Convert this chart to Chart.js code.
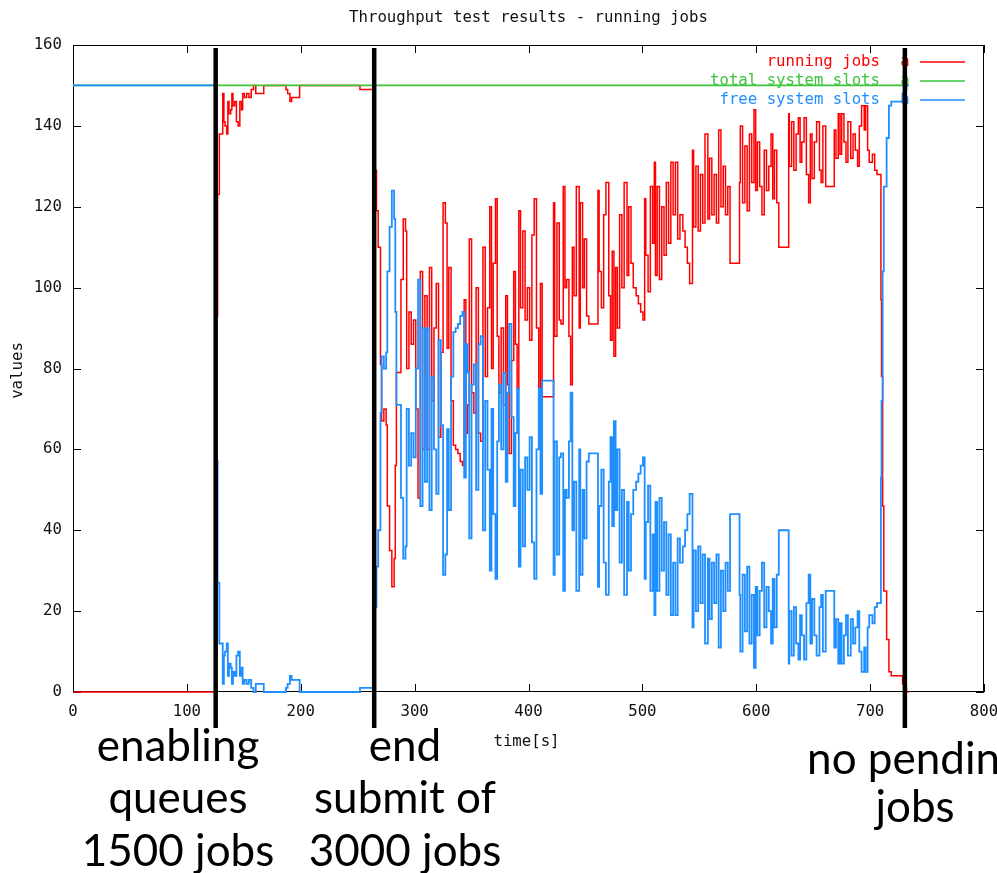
<!DOCTYPE html>
<html>
<head>
<meta charset="utf-8">
<title>Throughput test results - running jobs</title>
<script src="https://cdn.jsdelivr.net/npm/chart.js@4.4.1/dist/chart.umd.min.js"></script>
<style>
  html, body { margin: 0; padding: 0; background: #fff; }
</style>
</head>
<body>
<canvas id="jobsChart" width="997" height="873"></canvas>
<script>
// time in seconds, shared by running jobs / free slots
const times = [
  0, 125, 127, 128.5, 129.5, 131.5, 132.5, 133.5, 135, 136,
  137, 138.5, 139.5, 140.5, 142, 143.5, 145, 146.5, 148, 149,
  150.5, 152.5, 154.5, 156.5, 158.5, 160.5, 163, 167.5, 168.5, 187,
  188.5, 190.5, 192, 193.5, 199, 200, 252, 253, 263.5,
  265, 266.5, 268, 270, 271, 273, 275, 276, 278, 280, 282, 283, 284, 286, 288, 290, 292, 293,
  295, 297, 299, 301, 303, 305, 307, 309, 311, 313, 315, 317, 319, 321, 323, 325,
  327, 328.5, 330, 332, 334, 336, 338, 340, 342, 343.5, 345, 346.5, 348, 350,
  352, 354, 356, 358, 360, 362, 364, 366, 367.5, 369, 371, 372.5, 374,
  376, 378, 380, 381.5, 383, 385, 387, 388.5, 390, 391.5, 393, 395, 397, 399, 401, 403, 405, 407, 409, 410.5,
  412, 414, 422, 423, 425, 427, 428.5, 430.5, 432, 433.5, 435.5, 437, 438.5, 440, 442, 444.5,
  445.5, 447.5, 449, 451, 453, 455, 461, 462,
  464, 466, 468, 470.5, 472, 473.5, 475, 476.5, 478, 480, 482, 484, 486.5,
  488, 490, 492, 494.5, 496.5, 498.5, 500.5, 502, 503, 505,
  507, 509, 510.5, 511.5, 513, 515, 517, 519, 521, 523, 525, 527, 529, 531, 533, 535.5,
  537.5, 539.5, 541.5, 544, 545, 547, 549, 551, 553, 555, 557.5,
  559, 561, 563, 565, 567, 569, 571, 573, 575, 577, 578.8, 585.3,
  586, 588, 590, 592, 594, 596, 598, 599.5, 601, 603, 605, 607, 609, 611, 613, 614.5, 616, 618, 619.8,
  620.5, 628.5, 629,
  631, 633, 635, 637, 638.5, 640, 642, 644, 646, 647.5, 649, 651, 653, 655.5, 657, 658.5, 661,
  662, 668.5,
  670, 672, 673.5, 675, 677, 678.8, 680.5, 683, 685, 687, 689, 690.5, 692.5, 694.8, 696, 697.8, 699.2, 702, 704, 706, 708, 709.5,
  710, 711, 712, 714.5, 716.5, 718.5, 728.5, 730, 732, 734
];

const running = [
  0, 0, 93, 123, 138, 138, 148, 141, 140, 138,
  146, 143, 144, 148, 145, 146, 141, 140, 146, 144,
  148, 147, 148, 147, 149, 150, 148, 148, 150, 150,
  149, 148, 146, 147, 147, 150, 150, 149, 149,
  135, 129, 119, 110, 81, 67, 70, 66, 46, 35, 26, 33, 56, 79, 79, 102, 117, 114,
  80, 94, 86, 92, 70, 48, 104, 60, 98, 60, 105, 72, 90, 101, 63, 84,
  121, 116, 85, 105, 72, 61, 60, 59, 57, 56, 97, 64, 71, 112,
  74, 69, 100, 64, 62, 110, 78, 95, 120, 80, 106, 122, 88,
  74, 90, 71, 98, 76, 59, 82, 104, 86, 75, 119, 95, 114, 92, 100, 87, 113, 122, 90, 75,
  101, 73, 73, 121, 88, 116, 92, 91, 125, 100, 102, 88, 76, 110, 98, 125,
  90, 121, 100, 112, 93, 91, 91, 124,
  104, 95, 118, 126, 98, 87, 109, 83, 105, 90, 118, 100, 126,
  103, 120, 106, 100, 98, 96, 94, 92, 122, 108,
  99, 125, 111, 131, 103, 125, 102, 120, 108, 126, 111, 131, 118, 131, 112, 118,
  114, 110, 106, 101, 134, 115, 130, 114, 128, 116, 138,
  117, 132, 118, 128, 116, 139, 120, 130, 118, 125, 106, 106,
  126, 140, 121, 135, 119, 138, 126, 144, 124, 136, 125, 118, 134, 124, 130, 138, 122, 134, 121,
  110, 110, 143,
  130, 141, 129, 138, 142, 131, 136, 142, 128, 121, 138, 127, 136, 141, 129, 126, 140,
  125, 125,
  139, 132, 143, 133, 143, 136, 131, 141, 132, 138, 134, 130, 140, 145, 139, 145, 134, 131, 133, 129, 128, 128,
  97, 78, 46, 25, 13, 5, 4, 2, 1, 0
];

const free = [
  150, 150, 57, 27, 12, 12, 2, 9, 10, 12,
  4, 7, 6, 2, 5, 4, 9, 10, 4, 6,
  2, 3, 2, 3, 1, 0, 2, 2, 0, 0,
  1, 2, 4, 3, 3, 0, 0, 1, 1,
  15, 21, 31, 40, 69, 83, 80, 84, 104, 115, 124, 117, 94, 71, 71, 48, 33, 36,
  70, 56, 64, 58, 80, 102, 46, 90, 52, 90, 45, 78, 60, 49, 87, 66,
  29, 34, 65, 45, 78, 89, 90, 91, 93, 94, 53, 86, 79, 38,
  76, 81, 50, 86, 88, 40, 72, 55, 30, 70, 44, 28, 62,
  76, 60, 79, 52, 74, 91, 68, 46, 64, 75, 31, 55, 36, 58, 50, 63, 37, 28, 60, 75,
  49, 77, 77, 29, 62, 34, 58, 59, 25, 50, 48, 62, 74, 40, 52, 25,
  60, 29, 50, 38, 57, 59, 59, 26,
  46, 55, 32, 24, 52, 63, 41, 67, 45, 60, 32, 50, 24,
  47, 30, 44, 50, 52, 54, 56, 58, 28, 42,
  51, 25, 39, 19, 47, 25, 48, 30, 42, 24, 39, 19, 32, 19, 38, 32,
  36, 40, 44, 49, 16, 35, 20, 36, 22, 34, 12,
  33, 18, 32, 22, 34, 11, 30, 20, 32, 25, 44, 44,
  24, 10, 29, 15, 31, 12, 24, 6, 26, 14, 25, 32, 16, 26, 20, 12, 28, 16, 29,
  40, 40, 7,
  20, 9, 21, 12, 8, 19, 14, 8, 22, 29, 12, 23, 14, 9, 21, 24, 10,
  25, 25,
  11, 18, 7, 17, 7, 14, 19, 9, 18, 12, 16, 20, 10, 5, 11, 5, 16, 19, 17, 21, 22, 22,
  53, 72, 104, 125, 137, 145, 146, 148, 149, 150
];

const totalTimes = [0, 734];
const totalSlots = [150, 150];

const timeTicks = [0, 100, 200, 300, 400, 500, 600, 700, 800];
const valueTicks = [0, 20, 40, 60, 80, 100, 120, 140, 160];

const seriesNames = ['running jobs', 'total system slots', 'free system slots'];
const seriesColors = ['#ff0000', '#3cc43c', '#1f8fff'];

// event markers (time in seconds) and the notes written under them
const markerTimes = [125.3, 264.5, 730.5];
const markerNotes = [
  ['enabling', 'queues', '1500 jobs'],
  ['end', 'submit of', '3000 jobs'],
  ['no pending', 'jobs']
];

const monoFont = '"DejaVu Sans Mono", "Liberation Mono", monospace';
const toPoints = (xs, ys) => xs.map((t, i) => ({ x: t, y: ys[i] }));

const gnuplotFrame = {
  id: 'gnuplotFrame',
  beforeDatasetsDraw(chart) {
    const { ctx, chartArea: a, scales: { x, y } } = chart;
    ctx.save();
    ctx.strokeStyle = '#000';
    ctx.lineWidth = 1;
    ctx.strokeRect(a.left + 0.5, a.top + 0.5, a.right - a.left - 1, a.bottom - a.top - 1);
    ctx.beginPath();
    timeTicks.forEach(v => {
      const px = Math.round(x.getPixelForValue(v)) + 0.5;
      ctx.moveTo(px, a.bottom); ctx.lineTo(px, a.bottom - 8);
      ctx.moveTo(px, a.top); ctx.lineTo(px, a.top + 8);
    });
    valueTicks.forEach(v => {
      const py = Math.round(y.getPixelForValue(v)) + 0.5;
      ctx.moveTo(a.left, py); ctx.lineTo(a.left + 8, py);
      ctx.moveTo(a.right, py); ctx.lineTo(a.right - 8, py);
    });
    ctx.stroke();
    ctx.restore();
  },
  afterDatasetsDraw(chart) {
    const { ctx, chartArea: a, scales: { x } } = chart;
    ctx.save();

    // title and axis titles
    ctx.fillStyle = '#111';
    ctx.font = '15.7px ' + monoFont;
    ctx.textAlign = 'center';
    ctx.textBaseline = 'middle';
    ctx.fillText('Throughput test results - running jobs', (a.left + a.right) / 2, 18);
    ctx.fillText('time[s]', (a.left + a.right) / 2 - 2, 742);
    ctx.save();
    ctx.translate(18, (a.top + a.bottom) / 2 + 2);
    ctx.rotate(-Math.PI / 2);
    ctx.fillText('values', 0, 0);
    ctx.restore();

    // key, gnuplot style
    seriesNames.forEach((name, i) => {
      const ly = a.top + 17 + i * 19;
      ctx.fillStyle = seriesColors[i];
      ctx.textAlign = 'right';
      ctx.fillText(name, a.right - 104, ly);
      ctx.textAlign = 'center';
      ctx.fillText('a', a.right - 79, ly);
      ctx.strokeStyle = seriesColors[i];
      ctx.lineWidth = 1.6;
      ctx.beginPath();
      ctx.moveTo(a.right - 64, ly);
      ctx.lineTo(a.right - 19, ly);
      ctx.stroke();
    });

    // black event bars
    ctx.fillStyle = '#000';
    markerTimes.forEach(t => {
      const px = x.getPixelForValue(t);
      ctx.fillRect(px - 2.25, a.top + 3, 4.5, a.bottom + 36 - (a.top + 3));
    });

    // notes under the bars
    const noteCenters = [178, 405, 915];
    const noteBaselines = [[761, 813, 866], [761, 813, 866], [774, 822]];
    ctx.font = '44px Lato, "Liberation Sans", sans-serif';
    ctx.textAlign = 'center';
    ctx.textBaseline = 'alphabetic';
    markerNotes.forEach((lines, i) => {
      lines.forEach((line, j) => ctx.fillText(line, noteCenters[i], noteBaselines[i][j]));
    });
    ctx.restore();
  }
};

const ctx = document.getElementById('jobsChart').getContext('2d');
const jobsChart = new Chart(ctx, {
  type: 'line',
  data: {
    datasets: [{
      label: seriesNames[0],
      data: toPoints(times, running),
      borderColor: seriesColors[0],
      borderWidth: 1.5,
      stepped: 'after',
      order: 3
    }, {
      label: seriesNames[1],
      data: toPoints(totalTimes, totalSlots),
      borderColor: seriesColors[1],
      borderWidth: 1.8,
      order: 2
    }, {
      label: seriesNames[2],
      data: toPoints(times, free),
      borderColor: seriesColors[2],
      borderWidth: 1.8,
      stepped: 'after',
      order: 1
    }]
  },
  options: {
    responsive: false,
    animation: false,
    events: [],
    layout: { padding: { left: 0, top: 45, right: 13, bottom: 151 } },
    elements: {
      line: { tension: 0, fill: false },
      point: { radius: 0 }
    },
    datasets: { line: { clip: 3 } },
    plugins: {
      legend: { display: false },
      tooltip: { enabled: false }
    },
    scales: {
      x: {
        type: 'linear',
        min: 0,
        max: 800,
        grid: { display: false },
        border: { display: false },
        ticks: { font: { family: monoFont, size: 15.7 }, color: '#111', padding: 3, maxRotation: 0, autoSkip: false },
        afterBuildTicks: s => { s.ticks = timeTicks.map(v => ({ value: v })); },
        afterFit: s => { s.height = 30; s.paddingLeft = 0; s.paddingRight = 0; }
      },
      y: {
        type: 'linear',
        min: 0,
        max: 160,
        grid: { display: false },
        border: { display: false },
        ticks: { font: { family: monoFont, size: 15.7 }, color: '#111', padding: 3 },
        afterBuildTicks: s => { s.ticks = valueTicks.map(v => ({ value: v })); },
        afterFit: s => { s.width = 73; s.paddingTop = 0; s.paddingBottom = 0; }
      }
    }
  },
  plugins: [gnuplotFrame]
});
</script>
</body>
</html>
